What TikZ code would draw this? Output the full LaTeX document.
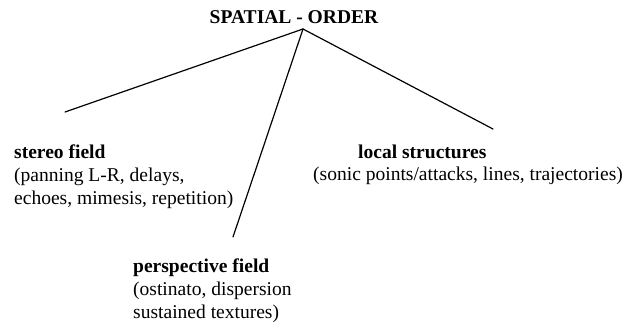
\documentclass[tikz,border=0pt]{standalone}
\usepackage{fontspec}
\setmainfont{Liberation Serif}
\usepackage{tikz}

\begin{document}
\begin{tikzpicture}[x=1bp,y=-1bp,
  lbl/.style={font=\fontsize{19.6}{23}\selectfont\rmfamily,inner sep=0pt,align=left},
  ttl/.style={font=\fontsize{19.6}{23}\selectfont\bfseries,inner sep=0pt},
  br/.style={line width=1.2pt,line cap=round},
]
\useasboundingbox (0,0) rectangle (633,324);

% ============================================================
% Root
% ============================================================
\node[ttl,anchor=base] (root) at (294,23) {SPATIAL - ORDER};
\coordinate (apex) at (303,29);

% ============================================================
% Branch ends
% ============================================================
\coordinate (stereoEnd) at (65,112);
\coordinate (perspEnd) at (233,237);
\coordinate (localEnd) at (493,129);

\draw[br] (apex) -- (stereoEnd);
\draw[br] (apex) -- (perspEnd);
\draw[br] (apex) -- (localEnd);

% ============================================================
% Leaves
% ============================================================
\node[lbl,anchor=north west] (stereo) at (14,144.3)
  {\textbf{stereo field}\\(panning L-R, delays,\\echoes, mimesis, repetition)};
\node[lbl,anchor=north west] (local) at (313,144.3)
  {\hspace*{45bp}\textbf{local structures}\\(sonic points/attacks, lines, trajectories)};
\node[lbl,anchor=north west] (persp) at (133,258.3)
  {\textbf{perspective field}\\(ostinato, dispersion\\sustained textures)};

\end{tikzpicture}
\end{document}
